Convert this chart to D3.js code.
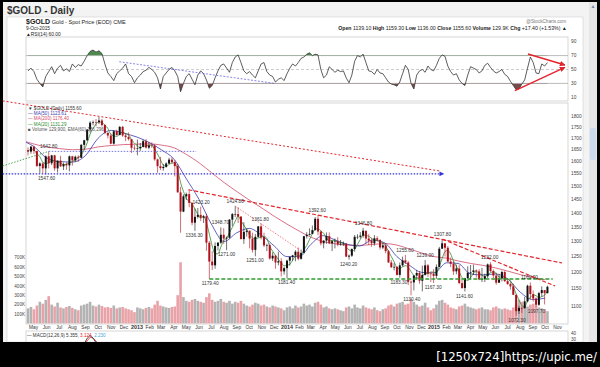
<!DOCTYPE html>
<html><head><meta charset="utf-8">
<script src="https://cdn.jsdelivr.net/npm/d3@7"></script>
<style>
html,body{margin:0;padding:0;background:#000;}
svg{display:block;font-family:"Liberation Sans",Arial,sans-serif;}
</style></head><body>
<svg id="c" width="600" height="367"></svg>
<script>
// ---------- DATA ----------
const weekEnds = d3.timeFriday.range(new Date(2012,3,20), new Date(2015,9,10));
const highs = [
1660,1666,1667,1646,1597,1598,1626,1642.8,1628,1628,1604,1624,1596,1597,1625,1624,1625,1626,1675,1693,1740,1777,1780,1787,1795.7,1788,1763,1726,1721,1735,1738,1754,1755,1723,1726,1696,1670,
1694,1679,1694,1696,1684,1682,1675,1612,1620,1590,1597,1616,1618,1605,1591,1498,1469,1476,1487,1440,1416,1418,1423.2,1393,1397,1302,1268,1297,1298,1348.7,1346,1317,1378,1400,1424.8,1421,1388,1367,1344,1337,1330,1326,1353,1361.8,1330,1293,1293,1264,1256,1266,1245,1217,
1240,1250,1256,1271,1280,1273,1319,1332,1345,1355,1385,1392.6,1337,1304,1331,1331,1305,1310,1315,1305,1300,1295,1257,1277,1322,1325,1332,1346.8,1332,1325,1311,1322,1318,1303,1295,1293,1272,1239,1229,1220,1231,1250,1255.6,1236,1175,1191,1207,1204,1221,1239,1226,1201,
1210,1225,1282,1307.8,1294,1285,1247,1235,1224,1223,1178,1183,1219,1223,1224,1209,1210,1214,1196,1228,1232,1209,1199,1195,1205,1205,1180,1170,1165,1132,1100,1098,1126,1162,1169,1145,1125,1141,1157,1146,1159.3];
const lows = [
1626,1633,1632,1577,1553,1552,1547.6,1572,1585,1562,1555,1578,1565,1566,1560,1583,1598,1598,1615,1650,1688,1725,1758,1753,1764,1752,1718,1699,1673,1672,1712,1713,1706,1687,1690,1636,1648,
1626,1645,1660,1655,1652,1658,1603,1554,1565,1562,1575,1590,1591,1539,1476,1330,1403,1448,1421,1356,1336.3,1380,1371,1364,1269,1179.4,1207,1211,1270,1292,1292,1271,1310,1354,1385,1364,1308,1292,1317,1277,1263,1251,1313,1307,1281,1268,1240,1236,1211,1222,1187,1193,
1181.4,1221,1236,1235,1238,1240,1268,1310,1320,1325,1338,1321,1287,1277,1292,1291,1268,1277,1284,1286,1285,1248,1240.2,1249,1266,1308,1310,1313,1292,1288,1282,1286,1300,1273,1275,1261,1230,1214,1206,1190,1183.3,1218,1226,1161,1130.4,1145,1180,1165,1142,1190,1186,1170,
1167.3,1180,1216,1275,1250,1233,1216,1192,1194,1164,1150,1141.6,1180,1178,1192,1184,1176,1170,1170,1182,1200,1182,1162,1169,1172,1170,1162,1147,1131,1072.3,1077,1080,1093,1110,1118,1112,1097.7,1100,1127,1104,1136];
const closes = [
1642,1663,1644,1582,1592,1572,1622,1593,1626,1572,1604,1580,1589,1584,1622,1605,1620,1616,1671,1691,1739,1770,1773,1772,1780,1759,1724,1712,1676,1731,1714,1751,1712,1705,1696,1658,1656,
1656,1662,1687,1659,1668,1667,1609,1581,1573,1578,1592,1608,1598,1581,1477,1405,1462,1470,1437,1365,1386,1393,1383,1388,1296,1234,1222,1285,1296,1323,1310,1313,1376,1396,1396,1387,1308,1333,1337,1310,1272,1316,1352,1315,1287,1288,1244,1253,1231,1235,1203,1213,
1237,1249,1254,1266,1243,1262,1318,1323,1326,1339,1379,1334,1294,1303,1318,1294,1301,1302,1290,1293,1293,1250,1253,1275,1316,1316,1320,1337,1310,1303,1294,1311,1306,1280,1287,1268,1231,1216,1217,1192,1222,1238,1231,1171,1169,1190,1198,1174,1192,1222,1196,1195,
1189,1217,1276,1294,1279,1234,1227,1203,1212,1167,1152,1182,1199,1201,1206,1203,1178,1179,1188,1225,1204,1190,1168,1181,1201,1173,1164,1157,1132,1085,1094,1093,1113,1159,1134,1121,1103,1137,1146,1137,1155.6];
const volumesK = [
160,175,150,190,230,210,250,290,200,180,220,170,160,175,185,165,150,140,190,200,210,230,190,180,200,185,170,175,165,190,160,170,175,160,150,140,120,
170,160,150,165,175,160,200,240,190,180,170,165,175,180,300,650,280,240,230,250,260,240,230,220,280,320,250,230,240,260,230,220,240,210,230,220,240,210,190,180,200,220,210,190,200,180,170,190,180,170,160,140,
170,180,160,190,170,180,210,190,200,180,220,230,200,170,180,160,150,160,150,140,130,170,180,160,200,170,160,190,170,160,150,170,140,130,150,160,190,200,180,210,220,230,200,210,260,230,200,180,190,220,170,140,
160,200,240,250,220,200,170,160,150,180,190,210,180,170,160,150,160,170,150,150,140,170,180,160,150,160,150,140,170,200,250,230,190,180,200,210,190,170,160,150,130];
const rsiVals = [
48,52,47,36,30,25,40,47,54,44,52,56,48,51,47,58,53,57,55,62,70,76,78,75,77,73,58,45,40,34,44,48,52,58,44,40,31,
38,42,47,49,53,50,46,38,22,40,45,50,53,48,40,18,30,40,44,36,28,42,48,44,35,23,27,38,48,56,58,52,46,60,68,71,60,48,44,47,42,38,48,58,60,47,42,40,32,36,38,34,
44,52,58,55,60,66,68,72,74,70,72,71,50,38,42,54,50,46,49,47,48,38,31,42,62,70,68,72,60,48,47,43,50,45,44,38,32,29,28,26,32,44,56,50,30,22,42,48,50,46,55,50,
48,56,66,71,69,55,47,42,44,35,30,27,42,54,52,50,45,48,56,59,53,48,45,47,50,43,40,33,27,21,22,29,35,52,68,60,45,44,58,55,60];
const maMonths = d3.timeMonth.range(new Date(2012,3,1), new Date(2015,10,1));
const ma50Vals = [1690,1665,1615,1600,1598,1625,1700,1735,1722,
1705,1680,1650,1610,1530,1450,1360,1300,1330,1345,1320,1285,
1250,1250,1290,1320,1305,1290,1285,1305,1295,1250,1222,1200,
1198,1230,1228,1195,1192,1195,1180,1140,1118,1122];
const ma200Vals = [1692,1675,1662,1655,1650,1652,1662,1668,1672,
1674,1675,1670,1658,1630,1595,1555,1515,1480,1448,1418,1388,
1360,1335,1315,1300,1292,1288,1287,1290,1293,1288,1275,1262,
1250,1245,1236,1228,1222,1214,1204,1193,1184,1177];
const annotations = [
 [new Date(2012,5,6),1642.8,"1642.80","hi"],[new Date(2012,5,1),1547.6,"1547.60","lo"],
 [new Date(2013,4,20),1336.3,"1336.30","lo"],[new Date(2013,5,6),1423.2,"1423.20","hi"],
 [new Date(2013,5,28),1179.4,"1179.40","lo"],[new Date(2013,6,23),1348.7,"1348.70","hi"],
 [new Date(2013,7,7),1271.0,"1271.00","lo"],[new Date(2013,7,28),1424.8,"1424.80","hi"],
 [new Date(2013,9,15),1251.0,"1251.00","lo"],[new Date(2013,9,28),1361.8,"1361.80","hi"],
 [new Date(2013,11,31),1181.4,"1181.40","lo"],[new Date(2014,2,17),1392.6,"1392.60","hi"],
 [new Date(2014,5,3),1240.2,"1240.20","lo"],[new Date(2014,6,10),1346.8,"1346.80","hi"],
 [new Date(2014,9,6),1183.3,"1183.30","lo"],[new Date(2014,9,21),1255.6,"1255.60","hi"],
 [new Date(2014,10,7),1130.4,"1130.40","lo"],[new Date(2014,11,10),1239.0,"1239.00","hi"],
 [new Date(2014,11,30),1167.3,"1167.30","lo"],[new Date(2015,0,22),1307.8,"1307.80","hi"],
 [new Date(2015,2,17),1141.6,"1141.60","lo"],[new Date(2015,4,18),1232.0,"1232.00","hi"],
 [new Date(2015,6,24),1072.3,"1072.30","lo"],[new Date(2015,7,24),1169.0,"1169.00","hi"],
 [new Date(2015,8,10),1097.7,"1097.70","lo"]];
// trend lines: [startDate,startPrice,endDate,endPrice]
const redLineA = [new Date(2012,1,18),1873,new Date(2015,0,16),1561];
const redLineB = [new Date(2013,4,6),1487,new Date(2015,10,12),1229.5];
const redLineC = [new Date(2015,0,22),1307.8,new Date(2015,9,26),1158];
const redLineD = [new Date(2013,7,28),1424.8,new Date(2014,1,2),1271.7];
const blueLineLong = [new Date(2012,1,18),1550,new Date(2015,0,25),1550];
const blueLineShort = [new Date(2012,5,6),1642.8,new Date(2013,4,25),1642.8];
const greenDotted = [new Date(2012,1,18),1582,new Date(2012,5,6),1642.8];
const greenSupport = [new Date(2013,5,26),1179.4,new Date(2015,9,20),1179.4];
const rsiBlue = [new Date(2012,10,20),61.2,new Date(2013,11,1),30.1];
const rsiRedUpper = [new Date(2015,7,20),72.3,new Date(2015,10,19),56.5];
const rsiRedLower = [new Date(2015,6,19),19.5,new Date(2015,10,19),53.2];
const priceTicks = d3.range(1100,1801,50);
const rsiTicks = [10,30,50,70,90];
const volTicks = [100,200,300,400,500,600,700];
const macdTicks = [40,30];
const axisMonths = d3.timeMonth.range(new Date(2012,4,1), new Date(2015,11,1));
const monthNames = ["Jan","Feb","Mar","Apr","May","Jun","Jul","Aug","Sep","Oct","Nov","Dec"];

// ---------- SCALES ----------
const svg = d3.select("#c");
const PX0=26, PX1=568;
const x = d3.scaleTime()
  .domain([new Date(2012,4,1),new Date(2013,0,1),new Date(2014,0,1),new Date(2015,0,1),new Date(2015,9,1)])
  .range([33.5,137,287,434,545]);
const y = d3.scaleLog().domain([1179.4,1800]).range([279,116.2]);
const yr = d3.scaleLinear().domain([0,100]).range([104.25,34.75]);
const yv = d3.scaleLinear().domain([0,700]).range([323.4,257.6]);
const ym = d3.scaleLinear().domain([30,40]).range([339.5,333.5]);

// ---------- FRAME ----------
svg.append("rect").attr("x",3).attr("y",2).attr("width",594).attr("height",340).attr("fill","#f3f3f3");
svg.append("rect").attr("x",7).attr("y",17).attr("width",576).attr("height",325).attr("fill","#fff").attr("stroke","#d0d0d0").attr("stroke-width",0.6);
svg.append("rect").attr("x",589).attr("y",2).attr("width",8).attr("height",340).attr("fill","#e6e6e6");
svg.append("rect").attr("x",590).attr("y",128).attr("width",6).attr("height",32).attr("rx",2).attr("fill","#cbd9ee");
svg.append("text").attr("x",593).attr("y",8).attr("font-size",5).attr("fill","#7a8aa8").attr("text-anchor","middle").text("▲");
svg.append("text").attr("x",7).attr("y",13.5).attr("font-size",10).attr("font-weight","bold").attr("fill","#333").text("$GOLD - Daily");

// header texts
const hdr = svg.append("g").attr("fill","#222");
const t1 = hdr.append("text").attr("x",26).attr("y",24).attr("font-size",5.6);
t1.append("tspan").attr("font-weight","bold").attr("font-size",7).text("$GOLD");
t1.append("tspan").text(" Gold - Spot Price (EOD)  CME");
hdr.append("text").attr("x",26).attr("y",29.8).attr("font-size",4.8).text("9-Oct-2015");
hdr.append("text").attr("x",26).attr("y",35.6).attr("font-size",4.8).text("▲RSI(14) 60.00");
hdr.append("text").attr("x",566).attr("y",23).attr("font-size",4.6).attr("fill","#777").attr("text-anchor","end").text("@StockCharts.com");
const ohlc = hdr.append("text").attr("x",567).attr("y",29.8).attr("font-size",5.2).attr("text-anchor","end");
[["Open"," 1139.10  "],["High"," 1159.30  "],["Low"," 1136.00  "],["Close"," 1155.60  "],["Volume"," 129.9K  "],["Chg"," +17.40 (+1.53%) ▲"]].forEach(p=>{
  ohlc.append("tspan").attr("font-weight","bold").text(p[0]);
  ohlc.append("tspan").text(p[1]);
});

// ---------- RSI PANEL ----------
svg.append("rect").attr("x",PX0).attr("y",37).attr("width",PX1-PX0).attr("height",64).attr("fill","none").attr("stroke","#bbb").attr("stroke-width",0.6);
const defs = svg.append("defs");
defs.append("clipPath").attr("id","rsiclip").append("rect").attr("x",PX0).attr("y",37).attr("width",PX1-PX0).attr("height",64);
[70,30].forEach(v=>svg.append("line").attr("x1",PX0).attr("x2",PX1).attr("y1",yr(v)).attr("y2",yr(v)).attr("stroke","#aaa").attr("stroke-width",0.8));
svg.append("line").attr("x1",PX0).attr("x2",PX1).attr("y1",yr(50)).attr("y2",yr(50)).attr("stroke","#aaa").attr("stroke-width",0.6).attr("stroke-dasharray","3,2");
const rsiPts = weekEnds.map((d,i)=>({d:d3.timeDay.offset(d,-2),v:rsiVals[i]}));
const rg = svg.append("g").attr("clip-path","url(#rsiclip)");
defs.append("clipPath").attr("id","above70").append("rect").attr("x",PX0).attr("y",30).attr("width",PX1-PX0).attr("height",yr(70)-30);
defs.append("clipPath").attr("id","below30").append("rect").attr("x",PX0).attr("y",yr(30)).attr("width",PX1-PX0).attr("height",110-yr(30));
rg.append("path").datum(rsiPts).attr("clip-path","url(#above70)").attr("fill","#4d8a4d")
  .attr("d",d3.area().x(p=>x(p.d)).y0(yr(70)).y1(p=>yr(p.v)));
rg.append("path").datum(rsiPts).attr("clip-path","url(#below30)").attr("fill","#7a4a4a")
  .attr("d",d3.area().x(p=>x(p.d)).y0(yr(30)).y1(p=>yr(p.v)));
rg.append("path").datum(rsiPts).attr("fill","none").attr("stroke","#333").attr("stroke-width",0.8)
  .attr("d",d3.line().x(p=>x(p.d)).y(p=>yr(p.v)));
rsiTicks.forEach(v=>svg.append("text").attr("x",571).attr("y",yr(v)+1.7).attr("font-size",4.8).attr("fill","#444").text(v));
function segR(a){return [[x(a[0]),yr(a[1])],[x(a[2]),yr(a[3])]];}
function marker(id,color){
  defs.append("marker").attr("id",id).attr("viewBox","0 0 10 10").attr("refX",9).attr("refY",5)
   .attr("markerWidth",4).attr("markerHeight",4).attr("orient","auto")
   .append("path").attr("d","M0,0L10,5L0,10z").attr("fill",color);
}
marker("arR","#e3242b"); marker("arB","#3333dd");
svg.append("path").attr("d",d3.line()(segR(rsiBlue))).attr("stroke","#5555dd").attr("stroke-width",0.7).attr("stroke-dasharray","2,1.5").attr("fill","none");
[rsiRedUpper,rsiRedLower].forEach(a=>svg.append("path").attr("d",d3.line()(segR(a))).attr("stroke","#e3242b").attr("stroke-width",1.4).attr("fill","none").attr("marker-end","url(#arR)"));

// ---------- PRICE PANEL ----------
svg.append("rect").attr("x",PX0).attr("y",103).attr("width",PX1-PX0).attr("height",221).attr("fill","none").attr("stroke","#bbb").attr("stroke-width",0.6);
defs.append("clipPath").attr("id","pclip").append("rect").attr("x",PX0).attr("y",103).attr("width",PX1-PX0).attr("height",221);
const pg = svg.append("g").attr("clip-path","url(#pclip)");
// volume
const bw = 2.6;
pg.append("g").selectAll("rect").data(weekEnds).join("rect")
  .attr("x",(d,i)=>x(d3.timeDay.offset(d,-2))-bw/2).attr("width",bw)
  .attr("y",(d,i)=>yv(volumesK[i])).attr("height",(d,i)=>yv(0)-yv(volumesK[i]))
  .attr("fill",(d,i)=>(i>0&&closes[i]<closes[i-1])?"#e9a3a8":"#b3b3b3");
// moving averages
const ma20 = closes.map((c,i)=>d3.mean(closes.slice(Math.max(0,i-3),i+1)));
pg.append("path").datum(maMonths.map((d,i)=>[d,ma200Vals[i]])).attr("fill","none").attr("stroke","#d24a6a").attr("stroke-width",0.8)
  .attr("d",d3.line().curve(d3.curveMonotoneX).x(p=>x(p[0])).y(p=>y(p[1])));
pg.append("path").datum(maMonths.map((d,i)=>[d,ma50Vals[i]])).attr("fill","none").attr("stroke","#3b3bb0").attr("stroke-width",0.8)
  .attr("d",d3.line().curve(d3.curveMonotoneX).x(p=>x(p[0])).y(p=>y(p[1])));
pg.append("path").datum(weekEnds.map((d,i)=>[d3.timeDay.offset(d,-2),ma20[i]])).attr("fill","none").attr("stroke","#2e8b2e").attr("stroke-width",0.8)
  .attr("d",d3.line().curve(d3.curveMonotoneX).x(p=>x(p[0])).y(p=>y(p[1])));
// candles
const cg = pg.append("g");
weekEnds.forEach((d,i)=>{
  const xc = x(d3.timeDay.offset(d,-2));
  const o = i>0?closes[i-1]:1648, c = closes[i];
  const col = c<o ? "#b0101a" : "#111";
  cg.append("line").attr("x1",xc).attr("x2",xc).attr("y1",y(highs[i])).attr("y2",y(lows[i])).attr("stroke",col).attr("stroke-width",0.6);
  cg.append("rect").attr("x",xc-1).attr("width",2).attr("y",y(Math.max(o,c))).attr("height",Math.max(0.6,Math.abs(y(o)-y(c)))).attr("fill",col);
});
// trend lines
function seg(a){return [[x(a[0]),y(a[1])],[x(a[2]),y(a[3])]];}
function tl(a,color,w,dash,mk){
  const p = svg.append("path").attr("d",d3.line()(seg(a))).attr("stroke",color).attr("stroke-width",w).attr("fill","none");
  if(dash) p.attr("stroke-dasharray",dash);
  if(mk) p.attr("marker-end",mk);
}
tl(redLineA,"#e3242b",1.0,"2,2");
tl(redLineB,"#e3242b",1.2,"4,2");
tl(redLineC,"#e3242b",1.2,"4,2");
tl(redLineD,"#e3242b",0.6,"1.5,1.5");
tl(blueLineLong,"#3333dd",1.2,"1.5,1.5","url(#arB)");
tl(blueLineShort,"#5555dd",0.8,"1.5,1.5");
tl(greenDotted,"#3a9a3a",0.9,"1.5,1.5");
tl(greenSupport,"#2f9a2f",1.5,"4,2");
// annotations
const ag = svg.append("g").attr("font-size",4.8).attr("fill","#333").attr("text-anchor","middle");
annotations.forEach(a=>{
  ag.append("text").attr("x",x(a[0])).attr("y",a[3]==="hi"? y(a[1])-3 : y(a[1])+6).text(a[2]);
});
// axis labels
priceTicks.forEach(v=>svg.append("text").attr("x",571).attr("y",y(v)+1.7).attr("font-size",4.8).attr("fill","#444").text(v));
volTicks.forEach(v=>svg.append("text").attr("x",25).attr("y",yv(v)+1.7).attr("font-size",4.6).attr("fill","#444").attr("text-anchor","end").text(v+"K"));
axisMonths.forEach(m=>{
  const t = svg.append("text").attr("x",x(m)).attr("y",329).attr("font-size",4.8).attr("fill","#333").attr("text-anchor","middle");
  if(m.getMonth()===0) t.attr("font-weight","bold").attr("font-size",5.4).text(m.getFullYear());
  else t.text(monthNames[m.getMonth()]);
});
// legend
const lg = svg.append("g").attr("font-size",4.6);
const leg = [["▼ $GOLD (Daily) 1155.60","#333"],["— MA(50) 1123.61","#3b3bb0"],["— MA(200) 1176.40","#d24a6a"],["— MA(20) 1131.29","#2e8b2e"],["■ Volume 129,900, EMA(60) 136,296","#555"]];
leg.forEach((l,i)=>lg.append("text").attr("x",28).attr("y",110+i*5.2).attr("fill",l[1]).text(l[0]));

// ---------- MACD PANEL (top edge visible) ----------
svg.append("rect").attr("x",PX0).attr("y",331).attr("width",PX1-PX0).attr("height",20).attr("fill","none").attr("stroke","#bbb").attr("stroke-width",0.6);
defs.append("clipPath").attr("id","mclip").append("rect").attr("x",PX0).attr("y",331).attr("width",PX1-PX0).attr("height",11);
// MACD derived from the weekly closes (EMA12 - EMA26, signal EMA9, in weekly steps)
const a12 = 1-Math.pow(1-2/13,5), a26 = 1-Math.pow(1-2/27,5), a9 = 1-Math.pow(0.8,5);
let e12=closes[0], e26=closes[0], sig=0;
const macd = [], sigs = [];
closes.forEach(c=>{ e12 += a12*(c-e12); e26 += a26*(c-e26); const m=e12-e26; sig += a9*(m-sig); macd.push(m); sigs.push(sig); });
const mg = svg.append("g").attr("clip-path","url(#mclip)");
const mx = (d,i)=>x(d3.timeDay.offset(weekEnds[i],-2));
mg.append("path").datum(sigs).attr("fill","none").attr("stroke","#e3242b").attr("stroke-width",0.8).attr("d",d3.line().x((d,i)=>mx(d,i)).y(d=>ym(d)));
mg.append("path").datum(macd).attr("fill","none").attr("stroke","#222").attr("stroke-width",0.8).attr("d",d3.line().x((d,i)=>mx(d,i)).y(d=>ym(d)));
const mt = svg.append("text").attr("x",27).attr("y",336.5).attr("font-size",4.6).attr("fill","#333");
mt.append("tspan").text("— MACD(12,26,9) 5.355, ");
mt.append("tspan").attr("fill","#e3242b").text("3.124");
mt.append("tspan").text(", ");
mt.append("tspan").attr("fill","#4aa3d8").text("2.230");
macdTicks.forEach(v=>svg.append("text").attr("x",571).attr("y",ym(v)+1.5).attr("font-size",4.6).attr("fill","#444").text(v));

// bottom black band
svg.append("rect").attr("x",0).attr("y",342).attr("width",600).attr("height",25).attr("fill","#000");
svg.append("text").attr("x",597).attr("y",361).attr("font-size",13).attr("fill","#fff").attr("text-anchor","end").attr("font-family","DejaVu Sans Condensed, DejaVu Sans").text("[1250x724]https://upic.me/");
</script></body></html>
